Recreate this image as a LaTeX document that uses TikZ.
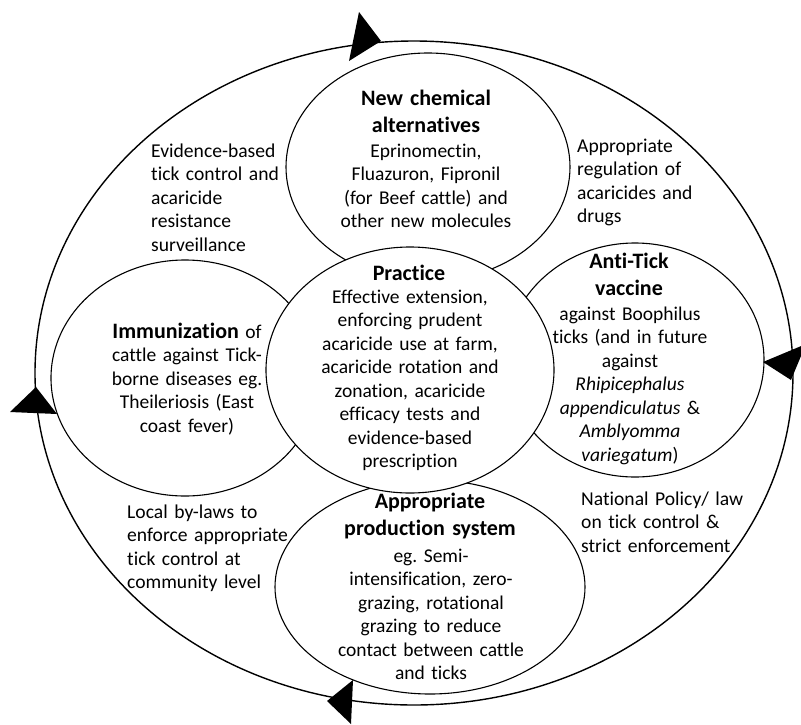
\documentclass[tikz,border=0pt]{standalone}
\usepackage{fontspec}
\setmainfont{Carlito}[Ligatures={NoCommon,NoContextual}]
\usetikzlibrary{shapes.geometric}
\frenchspacing
\begin{document}
\begin{tikzpicture}[x=1pt,y=-1pt,
  ring/.style={ellipse,draw,line width=1.4pt,inner sep=0pt},
  oval/.style={ellipse,draw,line width=1.1pt,fill=white,inner sep=0pt},
  ttl/.style={anchor=base,inner sep=0pt,text width=260pt,align=center,font=\fontsize{22}{27}\selectfont\bfseries},
  body/.style={anchor=base,inner sep=0pt,text width=260pt,align=center,font=\fontsize{19.5}{23.5}\selectfont},
  note/.style={anchor=base west,inner sep=0pt,text width=200pt,align=left,font=\fontsize{19.6}{23.5}\selectfont},
  head/.style={fill=black}]
\useasboundingbox (0,0) rectangle (801,724);
\begin{scope}
\clip (0,0) rectangle (801,724);
% outer cycle
\node[ring,minimum width=758pt,minimum height=664pt] (cycle) at (414,373) {};
% ovals
\node[oval,minimum width=284pt,minimum height=228pt] (chem) at (428,167) {};
\node[oval,minimum width=268pt,minimum height=236pt] (immun) at (185,378) {};
\node[oval,minimum width=258pt,minimum height=234pt] (vacc) at (635,360) {};
\node[oval,minimum width=310pt,minimum height=214pt] (prod) at (430,587) {};
\node[oval,minimum width=288pt,minimum height=246pt] (prac) at (410,370) {};
% arrow heads
\fill[head] (359,12) -- (381,41) -- (349,61) -- cycle;
\fill[head] (763,362) -- (806,344) -- (791,380) -- cycle;
\fill[head] (36,387) -- (10,412) -- (57,414) -- cycle;
\fill[head] (327,701) -- (353,680) -- (351,724) -- cycle;
\end{scope}
% texts in ovals
\node[ttl] (chemT) at (426,105) {New chemical\\alternatives};
\node[body] (chemB) at (426,157) {Eprinomectin,\\Fluazuron, Fipronil\\(for Beef cattle) and\\other new molecules};
\node[ttl] (pracT) at (409,280) {Practice};
\node[body] (pracB) at (410,303) {Effective extension,\\enforcing prudent\\acaricide use at farm,\\acaricide rotation and\\zonation, acaricide\\efficacy tests and\\evidence-based\\prescription};
\node[body] (immunT) at (187,338) {{\fontsize{22}{27}\selectfont\bfseries Immunization} of\\cattle against Tick-\\borne diseases eg.\\Theileriosis (East\\coast fever)};
\node[ttl] (vaccT) at (629,268) {Anti-Tick\\vaccine};
\node[body] (vaccB) at (630,320) {against Boophilus\\ticks (and in future\\against\\\textit{Rhipicephalus}\\\textit{appendiculatus} \&\\\textit{Amblyomma}\\\textit{variegatum})};
\node[ttl] (prodT) at (430,508) {Appropriate\\production system};
\node[body] (prodB) at (431,562) {eg. Semi-\\intensification, zero-\\grazing, rotational\\grazing to reduce\\contact between cattle\\and ticks};
% texts between ovals
\node[note] (evid) at (151,157) {Evidence-based\\tick control and\\acaricide\\resistance\\surveillance};
\node[note] (regul) at (577,152) {Appropriate\\regulation of\\acaricides and\\drugs};
\node[note] (bylaw) at (127,518) {Local by-laws to\\enforce appropriate\\tick control at\\community level};
\node[note] (policy) at (581,505) {National Policy/ law\\on tick control \&\\strict enforcement};
\end{tikzpicture}
\end{document}
